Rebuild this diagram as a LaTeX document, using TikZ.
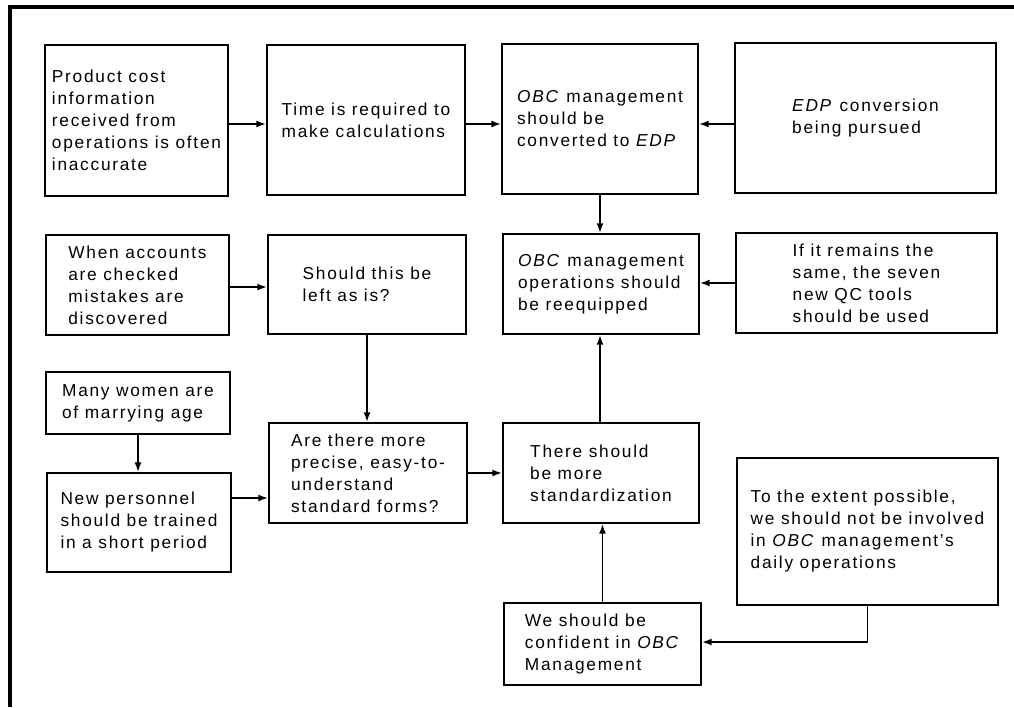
\documentclass[tikz,border=0pt]{standalone}
\usepackage{fontspec}
\setmainfont{Liberation Sans}[LetterSpace=10]
\usetikzlibrary{arrows.meta}
\tikzset{
  box/.style={draw=black, line width=1.4pt, inner sep=0pt, align=left,
    font=\fontsize{17.3}{22}\selectfont},
  arr/.style={draw=black, line width=1.9pt, -{Latex[length=10pt,width=7pt]}},
  frame/.style={draw=black, line width=4pt, line join=miter}
}
\begin{document}
\begin{tikzpicture}[x=1pt,y=-1pt]
\useasboundingbox (0,0) rectangle (1014,707);
\fill[white] (0,0) rectangle (1014,707);
\draw[frame] (10,707) -- (10,7) -- (1014,7);
% row 1
\node[box, minimum width=183pt, minimum height=151pt] (A) at (136.5,120.5)
  {Product cost\\information\\received from\\operations is often\\inaccurate};
\node[box, minimum width=198pt, minimum height=150pt] (B) at (366,120)
  {Time is required to\\make calculations};
\node[box, minimum width=196pt, minimum height=150pt] (C) at (600,119)
  {\textit{OBC} management\\should be\\converted to \textit{EDP}};
\node[box, minimum width=261pt, minimum height=150pt] (D) at (865.5,118)
  {\textit{EDP} conversion\\being pursued};
% row 2
\node[box, minimum width=183pt, minimum height=100pt] (E) at (137.5,285)
  {When accounts\\are checked\\mistakes are\\discovered};
\node[box, minimum width=198pt, minimum height=99pt] (F) at (367,284.5)
  {Should this be\\left as is?};
\node[box, minimum width=196pt, minimum height=100pt] (G) at (601,284)
  {\textit{OBC} management\\operations should\\be reequipped};
\node[box, minimum width=261pt, minimum height=100pt] (H) at (866.5,283)
  {If it remains the\\same, the seven\\new QC tools\\should be used};
% lower rows
\node[box, minimum width=184pt, minimum height=62pt] (I) at (138,403)
  {Many women are\\of marrying age};
\node[box, minimum width=184pt, minimum height=99pt] (J) at (139,522.5)
  {New personnel\\should be trained\\in a short period};
\node[box, minimum width=198pt, minimum height=100pt] (K) at (368,473)
  {Are there more\\precise, easy-to-\\understand\\standard forms?};
\node[box, minimum width=196pt, minimum height=100pt] (L) at (601,473)
  {There should\\be more\\standardization};
\node[box, minimum width=261pt, minimum height=147pt] (M) at (867.5,531.5)
  {To the extent possible,\\we should not be involved\\in \textit{OBC} management's\\daily operations};
\node[box, minimum width=197pt, minimum height=82pt] (N) at (602.5,644)
  {We should be\\confident in \textit{OBC}\\Management};
% connectors
\draw[arr] (A.east |- 0,124) -- (B.west |- 0,124);
\draw[arr] (B.east |- 0,124) -- (C.west |- 0,124);
\draw[arr] (D.west |- 0,124) -- (C.east |- 0,124);
\draw[arr] (C.south) -- (C.south |- G.north);
\draw[arr] (E.east |- 0,287) -- (F.west |- 0,287);
\draw[arr] (H.west |- 0,283) -- (G.east |- 0,283);
\draw[arr] (F.south) -- (F.south |- K.north);
\draw[arr] (I.south) -- (I.south |- J.north);
\draw[arr] (J.east |- 0,498) -- (K.west |- 0,498);
\draw[arr] (K.east) -- (L.west);
\draw[arr] (L.north -| 600,0) -- (G.south -| 600,0);
\draw[arr] (N.north) -- (N.north |- L.south);
\draw[arr] (M.south) |- (N.east |- 0,642);
\end{tikzpicture}
\end{document}
